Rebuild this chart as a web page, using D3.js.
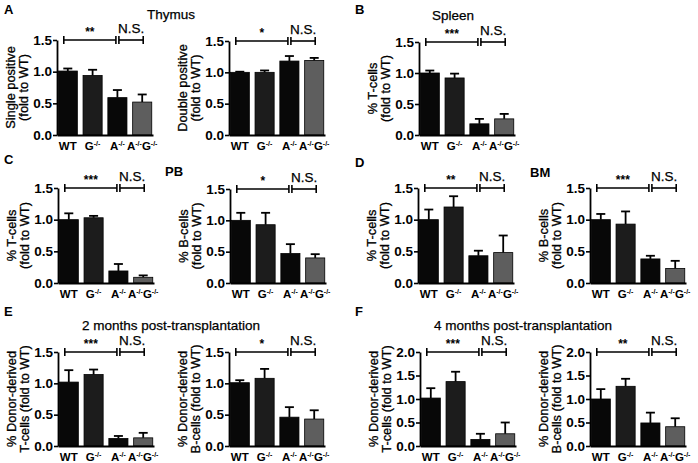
<!DOCTYPE html>
<html>
<head>
<meta charset="utf-8">
<script src="https://cdn.jsdelivr.net/npm/d3@7"></script>
<style>
  html, body { margin: 0; padding: 0; background: #fff; }
  svg { display: block; }
  text { font-family: "Liberation Sans", Arial, sans-serif; fill: #000; }
</style>
</head>
<body>
<svg id="chart" width="698" height="463"></svg>
<script>
// ---------- data ----------
const groups = ["WT", "G", "A", "AG"];
const groupLabels = [["WT"], ["G", "-/-"], ["A", "-/-"], ["A", "-/-", "G", "-/-"]];
const barColors = ["#080808", "#1c1c1c", "#080808", "#5e5e5e"];
const ticks15 = [0, 0.5, 1.0, 1.5];
const ticks20 = [0, 0.5, 1.0, 1.5, 2.0];

const thymusSPMean = [1.01, 0.94, 0.59, 0.52];
const thymusSPSem  = [0.04, 0.09, 0.12, 0.12];
const thymusDPMean = [1.00, 1.00, 1.18, 1.19];
const thymusDPSem  = [0.01, 0.03, 0.08, 0.04];
const spleenTMean  = [1.00, 0.92, 0.18, 0.26];
const spleenTSem   = [0.04, 0.07, 0.08, 0.08];
const pbTMean      = [1.00, 1.03, 0.19, 0.09];
const pbTSem       = [0.10, 0.03, 0.11, 0.03];
const pbBMean      = [1.00, 0.93, 0.47, 0.40];
const pbBSem       = [0.12, 0.19, 0.15, 0.06];
const bmTMean      = [1.00, 1.20, 0.43, 0.48];
const bmTSem       = [0.16, 0.17, 0.08, 0.27];
const bmBMean      = [1.00, 0.93, 0.38, 0.23];
const bmBSem       = [0.09, 0.20, 0.05, 0.12];
const tx2TMean     = [1.02, 1.14, 0.12, 0.13];
const tx2TSem      = [0.19, 0.08, 0.04, 0.08];
const tx2BMean     = [1.01, 1.08, 0.46, 0.43];
const tx2BSem      = [0.04, 0.15, 0.16, 0.14];
const tx4TMean     = [1.02, 1.37, 0.14, 0.26];
const tx4TSem      = [0.21, 0.21, 0.12, 0.24];
const tx4BMean     = [1.00, 1.27, 0.49, 0.41];
const tx4BSem      = [0.21, 0.16, 0.22, 0.18];

const sigLabels = ["**", "*", "***", "***", "*", "**", "***", "***", "*", "***", "**"];

// ---------- layout ----------
const svg = d3.select("#chart");

const panels = [
  {ax: 57,  yTop: 40,  y0: 135, max: 1.5, ticks: ticks15, mean: thymusSPMean, sem: thymusSPSem, sig: sigLabels[0], title: ["Single positive", "(fold to WT)"]},
  {ax: 229, yTop: 41,  y0: 135, max: 1.5, ticks: ticks15, mean: thymusDPMean, sem: thymusDPSem, sig: sigLabels[1], title: ["Double positive", "(fold to WT)"]},
  {ax: 419, yTop: 42,  y0: 135, max: 1.5, ticks: ticks15, mean: spleenTMean,  sem: spleenTSem,  sig: sigLabels[2], title: ["% T-cells", "(fold to WT)"]},
  {ax: 58,  yTop: 188, y0: 283, max: 1.5, ticks: ticks15, mean: pbTMean,      sem: pbTSem,      sig: sigLabels[3], title: ["% T-cells", "(fold to WT)"]},
  {ax: 230, yTop: 189, y0: 283, max: 1.5, ticks: ticks15, mean: pbBMean,      sem: pbBSem,      sig: sigLabels[4], title: ["% B-cells", "(fold to WT)"]},
  {ax: 418, yTop: 188, y0: 283, max: 1.5, ticks: ticks15, mean: bmTMean,      sem: bmTSem,      sig: sigLabels[5], title: ["% T-cells", "(fold to WT)"]},
  {ax: 590, yTop: 188, y0: 283, max: 1.5, ticks: ticks15, mean: bmBMean,      sem: bmBSem,      sig: sigLabels[6], title: ["% B-cells", "(fold to WT)"]},
  {ax: 58,  yTop: 352, y0: 446, max: 1.5, ticks: ticks15, mean: tx2TMean,     sem: tx2TSem,     sig: sigLabels[7], title: ["% Donor-derived", "T-cells (fold to WT)"]},
  {ax: 229, yTop: 352, y0: 446, max: 1.5, ticks: ticks15, mean: tx2BMean,     sem: tx2BSem,     sig: sigLabels[8], title: ["% Donor-derived", "B-cells (fold to WT)"]},
  {ax: 420, yTop: 352, y0: 446, max: 2.0, ticks: ticks20, mean: tx4TMean,     sem: tx4TSem,     sig: sigLabels[9], title: ["% Donor-derived", "T-cells (fold to WT)"]},
  {ax: 590, yTop: 352, y0: 446, max: 2.0, ticks: ticks20, mean: tx4BMean,     sem: tx4BSem,     sig: sigLabels[10], title: ["% Donor-derived", "B-cells (fold to WT)"]}
];

function drawPanel(p) {
  const g = svg.append("g");
  const x = d3.scaleBand().domain(groups).range([p.ax, p.ax + 96]).paddingInner(0.23).paddingOuter(0.05);
  const y = d3.scaleLinear().domain([0, p.max]).range([p.y0, p.yTop]);
  const bw = x.bandwidth();
  const rows = groups.map((k, i) => ({k, i, m: p.mean[i], s: p.sem[i]}));

  // error bars (drawn first so the bar covers the lower part)
  const eb = g.append("g").attr("stroke", "#000").attr("stroke-width", 1.8);
  rows.forEach(r => {
    const cx = x(r.k) + bw / 2;
    eb.append("line").attr("x1", cx).attr("x2", cx).attr("y1", y(r.m)).attr("y2", y(r.m + r.s));
    eb.append("line").attr("x1", cx - 4.5).attr("x2", cx + 4.5).attr("y1", y(r.m + r.s)).attr("y2", y(r.m + r.s));
  });

  // bars
  g.append("g").selectAll("rect").data(rows).join("rect")
    .attr("x", d => x(d.k)).attr("width", bw)
    .attr("y", d => y(d.m)).attr("height", d => y(0) - y(d.m))
    .attr("fill", d => barColors[d.i]).attr("stroke", "#000").attr("stroke-width", 0.8);

  // y axis
  const ya = g.append("g").attr("transform", `translate(${p.ax},0)`)
    .call(d3.axisLeft(y).tickValues(p.ticks).tickFormat(d3.format(".1f")).tickSize(4).tickSizeOuter(0).tickPadding(1));
  ya.select(".domain").attr("stroke-width", 1.8);
  ya.selectAll(".tick line").attr("stroke-width", 1.6);
  ya.selectAll(".tick text").attr("font-size", 13.5).attr("font-weight", "bold")
    .attr("font-family", "'Liberation Sans', Arial, sans-serif");

  // x axis
  const xa = g.append("g").attr("transform", `translate(0,${p.y0})`)
    .call(d3.axisBottom(x).tickSize(0).tickSizeOuter(0).tickPadding(5));
  xa.select(".domain").attr("stroke-width", 1.8);
  xa.selectAll(".tick text").each(function(d) {
    const t = d3.select(this);
    t.text(null).attr("font-size", 11.5).attr("font-weight", "bold")
      .attr("font-family", "'Liberation Sans', Arial, sans-serif").attr("dy", "0.9em");
    const parts = groupLabels[groups.indexOf(d)];
    parts.forEach((s, j) => {
      if (j % 2 === 0) {
        t.append("tspan").text(s).attr("font-size", 11.5).attr("dy", j === 0 ? null : 4);
      } else {
        t.append("tspan").text(s).attr("font-size", 7).attr("dy", -4);
      }
    });
  });

  // y title
  const tcx = p.ax - 39, tcy = (p.yTop + p.y0) / 2;
  const tt = g.append("text").attr("transform", `translate(${tcx},${tcy}) rotate(-90)`)
    .attr("text-anchor", "middle").attr("font-size", 12.8)
    .attr("stroke", "#000").attr("stroke-width", 0.3);
  tt.append("tspan").attr("x", 0).attr("dy", "-0.2em").text(p.title[0]);
  tt.append("tspan").attr("x", 0).attr("dy", "1.0em").text(p.title[1]);

  // significance brackets
  const by = y(p.max);
  const cW = x("WT") + bw / 2, cA = x("A") + bw / 2, cAG = x("AG") + bw / 2;
  const br = g.append("g").attr("stroke", "#000").attr("stroke-width", 1.6);
  const segs = [[cW - 4, cA - 1.5], [cA + 1.5, cAG + 1]];
  segs.forEach(([a, b]) => {
    br.append("line").attr("x1", a).attr("x2", b).attr("y1", by).attr("y2", by);
    br.append("line").attr("x1", a).attr("x2", a).attr("y1", by - 4).attr("y2", by + 4);
    br.append("line").attr("x1", b).attr("x2", b).attr("y1", by - 4).attr("y2", by + 4);
  });
  g.append("text").attr("x", (segs[0][0] + segs[0][1]) / 2).attr("y", by - 4)
    .attr("text-anchor", "middle").attr("font-size", 12).attr("font-weight", "bold").text(p.sig);
  g.append("text").attr("x", (segs[1][0] + segs[1][1]) / 2).attr("y", by - 7)
    .attr("text-anchor", "middle").attr("font-size", 13.5)
    .attr("stroke", "#000").attr("stroke-width", 0.25).text("N.S.");
}

panels.forEach(drawPanel);

// panel letters and headings
const letters = [["A", 4, 14], ["B", 355, 14], ["C", 4, 164], ["D", 355, 167], ["E", 4, 316], ["F", 355, 316]];
letters.forEach(([t, lx, ly]) => svg.append("text").attr("x", lx).attr("y", ly)
  .attr("font-size", 13).attr("font-weight", "bold").text(t));

const headings = [["Thymus", 171, 19], ["Spleen", 453, 20], ["2 months post-transplantation", 171, 330], ["4 months post-transplantation", 523, 330]];
headings.forEach(([t, hx, hy]) => svg.append("text").attr("x", hx).attr("y", hy)
  .attr("text-anchor", "middle").attr("font-size", 13.5)
  .attr("stroke", "#000").attr("stroke-width", 0.25).text(t));

const subLabels = [["PB", 165, 176], ["BM", 530, 177]];
subLabels.forEach(([t, sx, sy]) => svg.append("text").attr("x", sx).attr("y", sy)
  .attr("font-size", 13).attr("font-weight", "bold").text(t));
</script>
</body>
</html>
